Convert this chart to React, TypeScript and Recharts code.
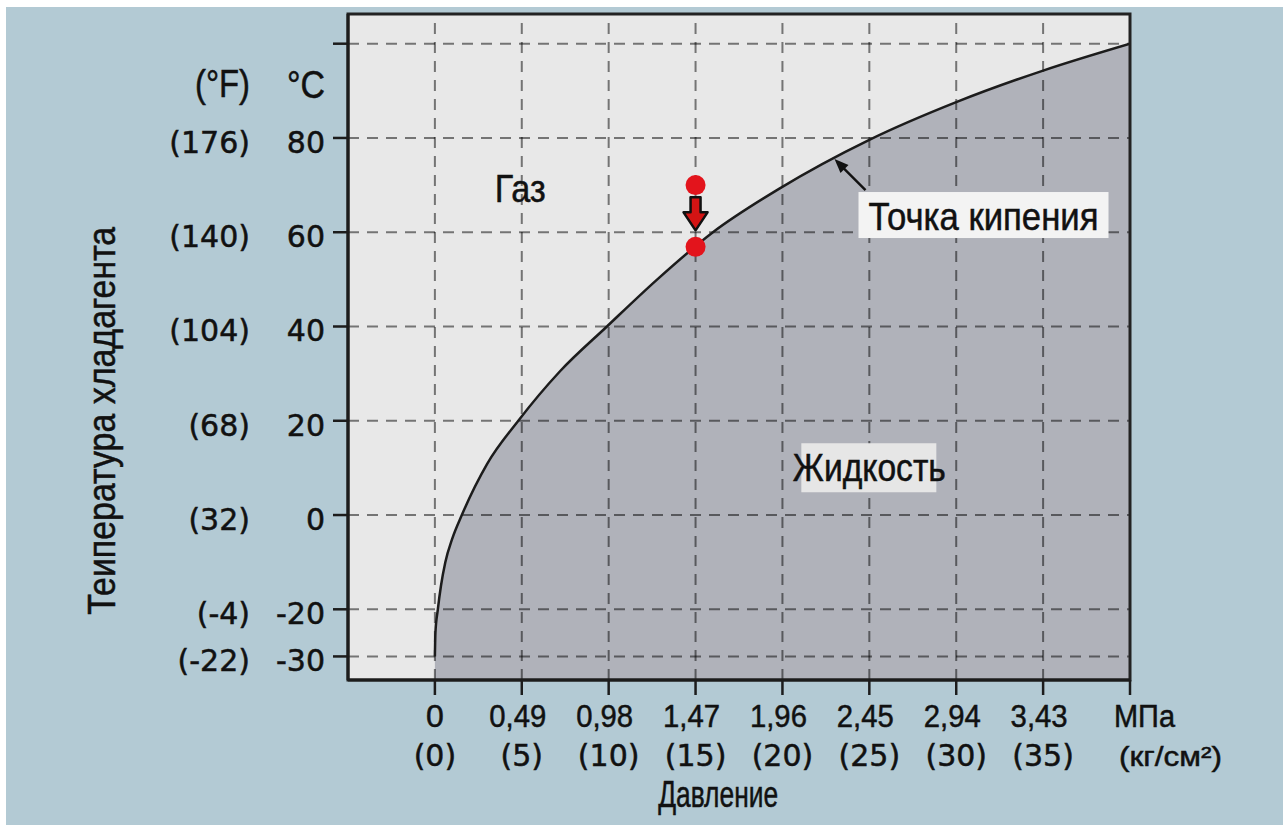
import React from 'react';
import {
  ComposedChart,
  Area,
  Line,
  Scatter,
  XAxis,
  YAxis,
  CartesianGrid,
  ReferenceLine,
  ReferenceArea,
  ReferenceDot,
} from 'recharts';

// Pressure axis (kg/cm²) and its labels
const pressureTicks = [0, 5, 10, 15, 20, 25, 30, 35, 40];
const mpaLabels = ['0', '0,49', '0,98', '1,47', '1,96', '2,45', '2,94', '3,43', 'МПа'];
const kgLabels = ['(0)', '(5)', '(10)', '(15)', '(20)', '(25)', '(30)', '(35)', '(кг/см²)'];
const gridPressures = [0, 5, 10, 15, 20, 25, 30, 35];

// Temperature axis (°C) and its labels
const tempTicks = [-30, -20, 0, 20, 40, 60, 80, 100];
const celsiusLabels = ['-30', '-20', '0', '20', '40', '60', '80', ''];
const fahrenheitLabels = ['(-22)', '(-4)', '(32)', '(68)', '(104)', '(140)', '(176)', ''];

// Boiling point curve (pressure kg/cm², temperature °C)
const boilingPressure = [0, 0.03, 0.17, 0.35, 0.6, 1.0, 1.55, 3.0, 4.8, 7.2, 9.9, 12.8, 16.0, 19.8, 25, 30, 35, 40];
const boilingTemp = [-30, -25, -20, -15, -10, -5, 0, 10.8, 20, 30.5, 40, 50, 60, 69.2, 79.6, 87.6, 94.3, 100];

// Refrigerant state points (gas -> condensing)
const statePressure = [15, 15];
const stateTemp = [70, 56.9];

const curve = boilingPressure.map((p, i) => ({ p, t: boilingTemp[i] }));
const stateDots = statePressure.map((p, i) => ({ p, t: stateTemp[i] }));

const INK = '#111111';
const SANS = '"Liberation Sans", Arial, sans-serif';
const WIDE = '"DejaVu Sans", sans-serif';
const THICK = { stroke: '#111111', strokeWidth: 0.5 };

const YTick = (props: any) => {
  const { x, y, payload } = props;
  const i = tempTicks.indexOf(payload.value);
  return (
    <g>
      <text x={x} y={y + 15} textAnchor="end" fontFamily={WIDE} fontSize={30} fill={INK} {...THICK}>
        {celsiusLabels[i]}
      </text>
      <text x={x - 75} y={y + 15} textAnchor="end" fontFamily={WIDE} fontSize={30} fill={INK} {...THICK}>
        {fahrenheitLabels[i]}
      </text>
    </g>
  );
};

const XTick = (props: any) => {
  const { x, y, payload } = props;
  const i = pressureTicks.indexOf(payload.value);
  const last = i === pressureTicks.length - 1;
  const top = mpaLabels[i];
  const bottom = kgLabels[i];
  return (
    <g>
      {last ? (
        <text x={x - 16} y={y + 32} textAnchor="start" fontFamily={SANS} fontSize={31} fill={INK} {...THICK}
          textLength={61} lengthAdjust="spacingAndGlyphs">{top}</text>
      ) : top.length > 1 ? (
        <text x={x - 4} y={y + 32} textAnchor="middle" fontFamily={SANS} fontSize={32} fill={INK} {...THICK}
          textLength={57} lengthAdjust="spacingAndGlyphs">{top}</text>
      ) : (
        <text x={x} y={y + 32} textAnchor="middle" fontFamily={SANS} fontSize={32} fill={INK} {...THICK}>{top}</text>
      )}
      {last ? (
        <text x={x - 11} y={y + 71} textAnchor="start" fontFamily={SANS} fontSize={28} fill={INK} {...THICK}
          textLength={103} lengthAdjust="spacingAndGlyphs">{bottom}</text>
      ) : (
        <text x={x} y={y + 71} textAnchor="middle" fontFamily={WIDE} fontSize={30} fill={INK} {...THICK}>{bottom}</text>
      )}
    </g>
  );
};

const narrowText = (x: number, y: number, s: string, size: number, len: number, anchor = 'middle') => (
  <text x={x} y={y} textAnchor={anchor} fontFamily={SANS} fontSize={size} fill={INK} {...THICK}
    textLength={len} lengthAdjust="spacingAndGlyphs">{s}</text>
);

export default function App() {
  return (
    <div style={{ position: 'absolute', left: 0, top: 0, width: 1288, height: 825, background: '#ffffff', overflow: 'hidden' }}>
      <div style={{ position: 'absolute', left: 6, top: 7, width: 1277, height: 818, background: '#b3cad4' }} />
      <div style={{ position: 'absolute', left: 0, top: 0 }}>
        <ComposedChart width={1288} height={825} margin={{ top: 14, right: 158, bottom: 45, left: 228 }}>
          <CartesianGrid horizontal={false} vertical={false} fill="#e8e8e8" fillOpacity={1} />
          <XAxis
            type="number"
            dataKey="p"
            domain={[-5, 40]}
            ticks={pressureTicks}
            interval={0}
            allowDataOverflow
            height={100}
            tickSize={15}
            tickMargin={0}
            axisLine={{ stroke: '#1c1c1c', strokeWidth: 3 }}
            tickLine={{ stroke: '#1c1c1c', strokeWidth: 2.5 }}
            tick={<XTick />}
          />
          <YAxis
            type="number"
            dataKey="t"
            domain={[-35, 106.3]}
            ticks={tempTicks}
            interval={0}
            allowDataOverflow
            width={120}
            tickSize={15}
            tickMargin={8}
            axisLine={{ stroke: '#1c1c1c', strokeWidth: 3 }}
            tickLine={{ stroke: '#1c1c1c', strokeWidth: 2.5 }}
            tick={<YTick />}
          />
          <Area
            data={curve}
            dataKey="t"
            type="monotone"
            stroke="none"
            fill="#b0b2ba"
            fillOpacity={1}
            baseValue="dataMin"
            isAnimationActive={false}
          />
          {gridPressures.map((p) => (
            <ReferenceLine key={'gx' + p} x={p} stroke="#000" strokeOpacity={0.5} strokeWidth={2}
              strokeDasharray="11 8" zIndex={150} />
          ))}
          {tempTicks.map((t) => (
            <ReferenceLine key={'gy' + t} y={t} stroke="#000" strokeOpacity={0.5} strokeWidth={2}
              strokeDasharray="11 8" zIndex={150} />
          ))}
          <Line
            data={curve}
            dataKey="t"
            type="monotone"
            stroke="#1c1c1c"
            strokeWidth={2.5}
            dot={false}
            activeDot={false}
            isAnimationActive={false}
          />
          <ReferenceArea x1={-5} x2={40} y1={-35} y2={106.3} fill="none" stroke="#222" strokeWidth={3}
            ifOverflow="visible" zIndex={450} />
          <Scatter
            data={stateDots}
            dataKey="t"
            isAnimationActive={false}
            shape={(s: any) => <circle cx={s.cx} cy={s.cy} r={10} fill="#e3141c" />}
          />
          {/* arrow between state points */}
          <ReferenceDot x={15} y={63.8} r={0} ifOverflow="visible" zIndex={700}
            shape={(s: any) => (
              <g>
                <polygon
                  points={`${s.cx - 5},${s.cy - 17} ${s.cx + 5},${s.cy - 17} ${s.cx + 5},${s.cy - 2} ${s.cx + 12},${s.cy - 2} ${s.cx},${s.cy + 16} ${s.cx - 12},${s.cy - 2} ${s.cx - 5},${s.cy - 2}`}
                  fill="#d41414" stroke="#111" strokeWidth={2.5} strokeLinejoin="round"
                />
              </g>
            )}
          />
          {/* Gas label */}
          <ReferenceDot x={4.91} y={69.6} r={0} ifOverflow="visible" zIndex={700}
            shape={(s: any) => narrowText(s.cx, s.cy + 15, 'Газ', 39, 51)} />
          {/* Liquid label */}
          <ReferenceDot x={25} y={10.35} r={0} ifOverflow="visible" zIndex={700}
            shape={(s: any) => (
              <g>
                <rect x={s.cx - 68} y={s.cy - 23} width={135} height={49} fill="#e6e6e6" />
                {narrowText(s.cx, s.cy + 15, 'Жидкость', 39, 153)}
              </g>
            )}
          />
          {/* Boiling point callout */}
          <ReferenceDot x={31.57} y={63.65} r={0} ifOverflow="visible" zIndex={700}
            shape={(s: any) => (
              <g>
                <line x1={s.cx - 118} y1={s.cy - 25} x2={s.cx - 144} y2={s.cy - 51} stroke="#111" strokeWidth={2.5} />
                <polygon
                  points={`${s.cx - 149},${s.cy - 56} ${s.cx - 135},${s.cy - 50} ${s.cx - 143},${s.cy - 42}`}
                  fill="#111"
                />
                <rect x={s.cx - 125} y={s.cy - 23} width={250} height={46} fill="#f3f3f3" />
                {narrowText(s.cx, s.cy + 15, 'Точка кипения', 39, 230)}
              </g>
            )}
          />
          {/* Unit header of temperature axis */}
          <ReferenceDot x={-5} y={100} r={0} ifOverflow="visible" zIndex={700}
            shape={(s: any) => (
              <g>
                {narrowText(s.cx - 98, s.cy + 53, '(°F)', 38, 55, 'end')}
                {narrowText(s.cx - 23, s.cy + 54, '°C', 38, 38, 'end')}
              </g>
            )}
          />
          {/* Y axis title */}
          <ReferenceDot x={-5} y={20} r={0} ifOverflow="visible" zIndex={700}
            shape={(s: any) => (
              <text
                transform={`translate(${s.cx - 233},${s.cy}) rotate(-90)`}
                x={0}
                y={0}
                textAnchor="middle"
                fontFamily={SANS}
                fontSize={38}
                fill={INK}
                {...THICK}
                textLength={388}
                lengthAdjust="spacingAndGlyphs"
              >
                Теипература хладагента
              </text>
            )}
          />
          {/* X axis title */}
          <ReferenceDot x={16.3} y={-35} r={0} ifOverflow="visible" zIndex={700}
            shape={(s: any) => narrowText(s.cx, s.cy + 127, 'Давление', 36, 120)} />
        </ComposedChart>
      </div>
    </div>
  );
}
